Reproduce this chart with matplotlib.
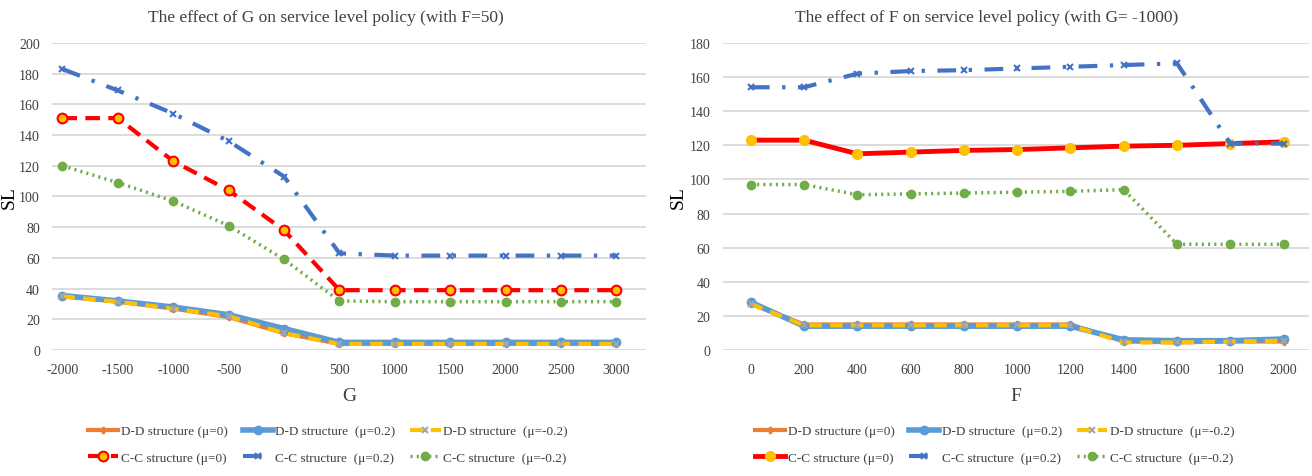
import matplotlib.pyplot as plt

plt.rcParams['font.family'] = ['Liberation Serif', 'DejaVu Serif']
plt.rcParams['axes.unicode_minus'] = False

# ---- data ----
g_vals = [-2000, -1500, -1000, -500, 0, 500, 1000, 1500, 2000, 2500, 3000]
g_dd_0 = [35, 31.5, 27, 21.5, 11, 4, 4, 4, 4, 4, 4]
g_dd_p2 = [35.5, 32, 28, 23, 14, 5, 5, 5, 5, 5, 5]
g_dd_m2 = [35, 31.5, 27, 22, 11, 4, 4, 4, 4, 4, 4]
g_cc_0 = [151, 151, 123, 104, 78, 39, 39, 39, 39, 39, 39]
g_cc_p2 = [183, 169, 154, 136, 113, 63, 61.5, 61.5, 61.5, 61.5, 61.5]
g_cc_m2 = [120, 109, 97, 81, 59, 32, 31.5, 31.5, 31.5, 31.5, 31.5]

f_vals = [0, 200, 400, 600, 800, 1000, 1200, 1400, 1600, 1800, 2000]
f_dd_0 = [27, 15, 15, 15, 15, 15, 15, 5, 4.5, 5, 5]
f_dd_p2 = [28, 14, 14, 14, 14, 14, 14, 6, 5.5, 5.5, 6.5]
f_dd_m2 = [27, 14.5, 14.5, 14.5, 14.5, 14.5, 14.5, 4.5, 4.5, 5, 5.5]
f_cc_0 = [123, 123, 115, 116, 117, 117.5, 118.5, 119.5, 120, 121, 122]
f_cc_p2 = [154, 154, 162, 163.5, 164, 165, 166, 167, 168, 121, 121]
f_cc_m2 = [97, 97, 91, 91.5, 92, 92.5, 93, 94, 62, 62, 62]

labels = ['D-D structure (\u03bc=0)', 'D-D structure  (\u03bc=0.2)', 'D-D structure  (\u03bc=-0.2)',
          'C-C structure (\u03bc=0)', 'C-C structure  (\u03bc=0.2)', 'C-C structure  (\u03bc=-0.2)']

ORANGE = '#ED7D31'
BLUE = '#5B9BD5'
YELLOW = '#FFC000'
GRAY = '#A5A5A5'
RED = '#FF0000'
DBLUE = '#4472C4'
GREEN = '#70AD47'
TXT = '#404040'


def draw_panel(ax, x, dd0, ddp, ddm, cc0, ccp, ccm, red_solid, red_edge):
    h = {}
    h[0], = ax.plot(x, dd0, color=ORANGE, lw=3, marker='P', ms=5, mfc=ORANGE, mec=ORANGE, zorder=3)
    h[1], = ax.plot(x, ddp, color=BLUE, lw=4, marker='o', ms=6, mfc=BLUE, mec=BLUE, zorder=4)
    h[2], = ax.plot(x, ddm, color=YELLOW, lw=3, dashes=(3, 2), marker='x', ms=5, mec=GRAY, mew=1.5, zorder=5)
    if red_solid:
        h[3], = ax.plot(x, cc0, color=RED, lw=3.5, marker='o', ms=7, mfc=YELLOW, mec=YELLOW, zorder=4)
    else:
        h[3], = ax.plot(x, cc0, color=RED, lw=3, dashes=(3.5, 2), marker='o', ms=7,
                        mfc=YELLOW, mec=red_edge, mew=1.5, zorder=4)
    h[4], = ax.plot(x, ccp, color=DBLUE, lw=3, dashes=(4.5, 3, 0.8, 3), marker='x', ms=5,
                    mec=DBLUE, mew=1.5, zorder=4)
    h[5], = ax.plot(x, ccm, color=GREEN, lw=2.5, dashes=(0.6, 1.2), marker='o', ms=6,
                    mfc=GREEN, mec=GREEN, zorder=4)
    for s in ax.spines.values():
        s.set_visible(False)
    ax.grid(axis='y', color='#D9D9D9', lw=1.3)
    ax.set_axisbelow(True)
    ax.tick_params(length=0, labelsize=10, colors=TXT, pad=9)
    ax.set_xticks(x)
    ax.set_ylabel('SL', fontsize=14, color='black')
    return [h[i] for i in range(6)]


fig = plt.figure(figsize=(13.12, 4.77), dpi=100)
ax1 = fig.add_axes([0.040, 0.264, 0.452, 0.644])
ax2 = fig.add_axes([0.551, 0.264, 0.447, 0.644])

h1 = draw_panel(ax1, g_vals, g_dd_0, g_dd_p2, g_dd_m2, g_cc_0, g_cc_p2, g_cc_m2, False, RED)
ax1.set_xlim(-2090, 3262)
ax1.set_ylim(0, 200)
ax1.set_yticks(range(0, 201, 20))
ax1.yaxis.set_label_coords(-0.058, 0.5)
ax1.set_xlabel('G', fontsize=14, color=TXT, labelpad=8)

h2 = draw_panel(ax2, f_vals, f_dd_0, f_dd_p2, f_dd_m2, f_cc_0, f_cc_p2, f_cc_m2, True, YELLOW)
ax2.set_xlim(-105, 2097)
ax2.set_ylim(0, 180)
ax2.set_yticks(range(0, 181, 20))
ax2.yaxis.set_label_coords(-0.062, 0.5)
ax2.set_xlabel('F', fontsize=14, color=TXT, labelpad=8)

# titles are centred on each chart area, not on the plot area
fig.text(0.248, 0.962, 'The effect of G on service level policy (with F=50)',
         ha='center', va='center', fontsize=12.5, color=TXT)
fig.text(0.752, 0.962, 'The effect of F on service level policy (with G= -1000)',
         ha='center', va='center', fontsize=12.5, color=TXT)

order = [0, 3, 1, 4, 2, 5]
for hs, cx in ((h1, 0.25), (h2, 0.758)):
    fig.legend([hs[i] for i in order], [labels[i] for i in order], loc='center',
               bbox_to_anchor=(cx, 0.066), ncol=3, frameon=False, fontsize=9.5,
               handlelength=2.3, handletextpad=0.2, columnspacing=1.1, labelspacing=1.1,
               labelcolor=TXT)

fig.savefig('out.png', dpi=100)
